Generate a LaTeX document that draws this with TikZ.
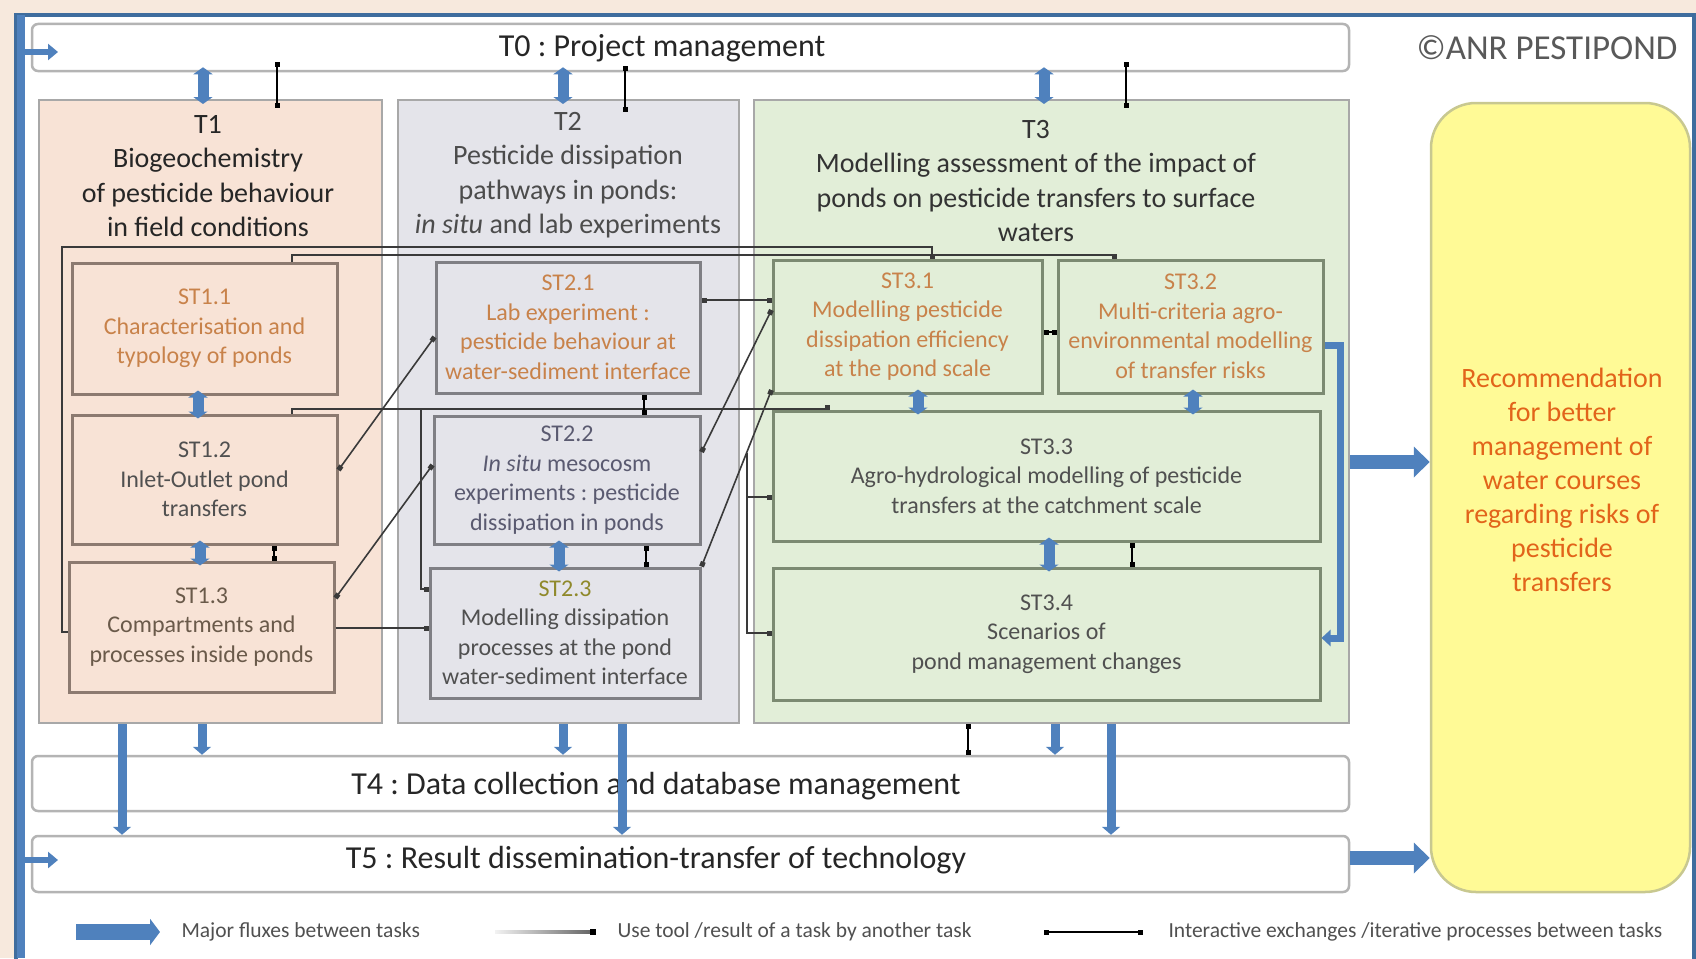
\documentclass[tikz,border=0pt]{standalone}
\usepackage{fontspec}
\setmainfont{Carlito}
\usetikzlibrary{arrows.meta}
\definecolor{fluxblue}{HTML}{4F81BD}
\definecolor{frameblue}{HTML}{3F6D9E}
\definecolor{peachbg}{HTML}{F7E9DD}
\definecolor{tonefill}{HTML}{F8E3D6}
\definecolor{ttwofill}{HTML}{E4E4EA}
\definecolor{tthreefill}{HTML}{E2EED8}
\definecolor{taskborder}{HTML}{A8A8A8}
\definecolor{barborder}{HTML}{B4B4B4}
\definecolor{stoneborder}{HTML}{8C7A70}
\definecolor{sttwoborder}{HTML}{7F7F84}
\definecolor{stthreeborder}{HTML}{7C8A72}
\definecolor{recfill}{HTML}{FFFA96}
\definecolor{recborder}{HTML}{C8C890}
\definecolor{orangeT}{HTML}{C8824A}
\definecolor{darkT}{HTML}{505050}
\definecolor{brownT}{HTML}{6A5A4A}
\definecolor{blueT}{HTML}{5A5A70}
\definecolor{recT}{HTML}{E2641A}
\definecolor{linegray}{HTML}{3A3A3A}
\begin{document}
\frenchspacing
\begin{tikzpicture}[x=1pt,y=-1pt,
  taskbox/.style={draw=taskborder,line width=2pt,inner sep=0pt},
  subbox/.style={draw=#1,line width=3pt,inner xsep=0pt,inner ysep=2pt,align=flush center,font=\fontsize{24}{29.5}\selectfont},
  barbox/.style={draw=barborder,fill=white,rounded corners=6pt,line width=2.5pt,inner sep=0pt},
  hdr/.style={align=flush center,font=\fontsize{28}{34.5}\selectfont},
  bartxt/.style={font=\fontsize{32}{36}\selectfont,text=black!85},
  flux/.style={draw=fluxblue,line width=9pt,-{Triangle[width=18pt,length=8pt]}},
  fluxd/.style={draw=fluxblue,line width=11pt,{Triangle[width=19pt,length=7pt]}-{Triangle[width=19pt,length=7pt]}},
  bigflux/.style={draw=fluxblue,line width=14pt,-{Triangle[width=30pt,length=16pt]}},
  inter/.style={draw=black,line width=1.6pt,{Square[length=5pt,width=5pt]}-{Square[length=5pt,width=5pt]}},
  usetool/.style={draw=linegray,line width=1.6pt,-{Square[length=5pt,width=5pt]}},
  usetwo/.style={draw=linegray,line width=1.6pt,{Square[length=5pt,width=5pt]}-{Square[length=5pt,width=5pt]}},
  legtxt/.style={anchor=west,font=\fontsize{21.5}{24}\selectfont,text=darkT}]
\useasboundingbox (0,0) rectangle (1696,958);
% background and frame
\fill[peachbg] (0,0) rectangle (1696,958);
\draw[draw=frameblue,fill=white,line width=4pt] (16,15) rectangle (1694,975);
\coordinate (lb1) at (21,15);
\coordinate (lb2) at (21,958);
\draw[draw=fluxblue,line width=8pt] (lb1) -- (lb2);
\coordinate (la0) at (58,52);
\coordinate (la5) at (58,860);

% task boxes
\node[taskbox,fill=tonefill,minimum width=343pt,minimum height=623pt] (t1) at (210.5,411.5) {};
\node[taskbox,fill=ttwofill,minimum width=341pt,minimum height=623pt] (t2) at (568.5,411.5) {};
\node[taskbox,fill=tthreefill,minimum width=595pt,minimum height=623pt] (t3) at (1051.5,411.5) {};
\node[barbox,minimum width=1317pt,minimum height=47pt] (t0) at (690.5,47.5) {};
\node[barbox,minimum width=1317pt,minimum height=55pt] (t4) at (690.5,783.5) {};
\node[barbox,minimum width=1317pt,minimum height=56pt] (t5) at (690.5,864) {};
\node[draw=recborder,fill=recfill,line width=2.5pt,rounded corners=45pt,minimum width=259pt,minimum height=789pt,inner sep=0pt] (rec) at (1560.5,497.5) {};

\node[bartxt] (t0txt) at (662,48) {T0 : Project management};
\node[bartxt] (t4txt) at (656,786) {T4 : Data collection and database management};
\node[bartxt] (t5txt) at (656,860) {T5 : Result dissemination-transfer of technology};
\node[font=\fontsize{35}{38}\selectfont,text=black!65] (copy) at (1547,48) {\copyright ANR PESTIPOND};
\node[align=flush center,font=\fontsize{28}{34}\selectfont,text=recT] (rectxt) at (1562,480) {Recommendation\\for better\\management of\\water courses\\regarding risks of\\pesticide\\transfers};

% headers
\node[hdr,text=black!85] (h1) at (208,176) {T1\\Biogeochemistry\\of pesticide behaviour\\in field conditions};
\node[hdr,text=black!70] (h2) at (568,175) {T2\\Pesticide dissipation\\pathways in ponds:\\\textit{in situ} and lab experiments};
\node[hdr,text=black!80] (h3) at (1036,181) {T3\\Modelling assessment of the impact of\\ponds on pesticide transfers to surface\\waters};

% subtasks
\node[subbox=stoneborder,fill=tonefill,minimum width=265pt,text width=265pt,minimum height=131pt,text=orangeT] (st11) at (204.5,328.5) {ST1.1\\Characterisation and\\typology of ponds};
\node[subbox=stoneborder,fill=tonefill,minimum width=265pt,text width=265pt,minimum height=129pt,text=darkT] (st12) at (204.5,479.5) {ST1.2\\Inlet-Outlet pond\\transfers};
\node[subbox=stoneborder,fill=tonefill,minimum width=265pt,text width=265pt,minimum height=130pt,text=brownT] (st13) at (201.5,627) {ST1.3\\Compartments and\\processes inside ponds};
\node[subbox=sttwoborder,fill=ttwofill,minimum width=264pt,text width=264pt,minimum height=131pt,text=orangeT] (st21) at (568,327.5) {ST2.1\\Lab experiment :\\pesticide behaviour at\\water-sediment interface};
\node[subbox=sttwoborder,fill=ttwofill,minimum width=266pt,text width=266pt,minimum height=128pt,text=blueT] (st22) at (567,480) {ST2.2\\\textit{In situ} mesocosm\\experiments : pesticide\\dissipation in ponds};
\node[subbox=sttwoborder,fill=ttwofill,minimum width=270pt,text width=270pt,minimum height=130pt,text=darkT] (st23) at (565,633) {\textcolor{olive!70!gray}{ST2.3}\\Modelling dissipation\\processes at the pond\\water-sediment interface};
\node[subbox=stthreeborder,fill=tthreefill,minimum width=269pt,text width=269pt,minimum height=133pt,text=orangeT] (st31) at (907.5,326.5) {ST3.1\\Modelling pesticide\\dissipation efficiency\\at the pond scale};
\node[subbox=stthreeborder,fill=tthreefill,minimum width=265pt,text width=265pt,minimum height=133pt,text=orangeT] (st32) at (1190.5,326.5) {ST3.2\\Multi-criteria agro-\\environmental modelling\\of transfer risks};
\node[subbox=stthreeborder,fill=tthreefill,minimum width=547pt,text width=547pt,minimum height=130pt,text=darkT] (st33) at (1046.5,476) {ST3.3\\Agro-hydrological modelling of pesticide\\transfers at the catchment scale};
\node[subbox=stthreeborder,fill=tthreefill,minimum width=547pt,text width=547pt,minimum height=132pt,text=darkT] (st34) at (1046.5,634) {ST3.4\\Scenarios of\\pond management changes};

% use-tool lines
\draw[usetool] (st13.west |- 0,632) -- (62,632) -- (62,247) -- (932,247) -- (932,0 |- st31.north);
\draw[usetool] (292,0 |- st11.north) -- (292,255) -- (1114,255) -- (1114,0 |- st32.north);
\draw[usetool] (292,0 |- st12.north) -- (292,409) -- (827,409) -- (827,0 |- st33.north);
\draw[usetool] (421,409) -- (421,589) -- (st23.west |- 0,589);
\draw[usetwo] (st12.east |- 0,470) -- (st21.west |- 0,337);
\draw[usetwo] (st13.east |- 0,598) -- (st22.west |- 0,465);
\draw[usetool] (st13.east |- 0,628) -- (st23.west |- 0,628);
\draw[usetwo] (st21.east |- 0,300) -- (st31.west |- 0,300);
\draw[usetwo] (st22.east |- 0,452) -- (st31.west |- 0,310);
\draw[usetwo] (st23.north east) -- (st31.west |- 0,390);
\draw[usetool] (747,453) -- (747,633) -- (st34.west |- 0,633);
\draw[usetool] (747,497) -- (st33.west |- 0,497);

% interactive exchanges
\draw[inter] (277,62) -- (277,108);
\draw[inter] (625,66) -- (625,112);
\draw[inter] (1126,62) -- (1126,108);
\draw[inter] (274,0 |- st12.south) -- (274,0 |- st13.north);
\draw[inter] (644,0 |- st21.south) -- (644,0 |- st22.north);
\draw[inter] (646,0 |- st22.south) -- (646,0 |- st23.north);
\draw[inter] (1132,0 |- st33.south) -- (1132,0 |- st34.north);
\draw[inter] (st31.east |- 0,332) -- (st32.west |- 0,332);
\draw[inter] (968,0 |- t3.south) -- (968,0 |- t4.north);

% major fluxes
\draw[fluxd] ([yshift=5pt]203,0 |- t0.south) -- ([yshift=-5pt]203,0 |- t1.north);
\draw[fluxd] ([yshift=5pt]563,0 |- t0.south) -- ([yshift=-5pt]563,0 |- t2.north);
\draw[fluxd] ([yshift=5pt]1044,0 |- t0.south) -- ([yshift=-5pt]1044,0 |- t3.north);
\draw[fluxd] ([yshift=5pt]198,0 |- st11.south) -- ([yshift=-5pt]198,0 |- st12.north);
\draw[fluxd] ([yshift=5pt]200,0 |- st12.south) -- ([yshift=-5pt]200,0 |- st13.north);
\draw[fluxd] ([yshift=5pt]559,0 |- st22.south) -- ([yshift=-5pt]559,0 |- st23.north);
\draw[fluxd] ([yshift=5pt]918,0 |- st31.south) -- ([yshift=-5pt]918,0 |- st33.north);
\draw[fluxd] ([yshift=5pt]1193,0 |- st32.south) -- ([yshift=-5pt]1193,0 |- st33.north);
\draw[fluxd] ([yshift=5pt]1049,0 |- st33.south) -- ([yshift=-5pt]1049,0 |- st34.north);
\draw[flux] (202,0 |- t1.south) -- (202,0 |- t4.north);
\draw[flux] (563,0 |- t2.south) -- (563,0 |- t4.north);
\draw[flux] (1055,0 |- t3.south) -- (1055,0 |- t4.north);
\draw[flux] (122,0 |- t1.south) -- (122,0 |- t5.north);
\draw[flux] (622,0 |- t2.south) -- (622,0 |- t5.north);
\draw[flux] (1111,0 |- t3.south) -- (1111,0 |- t5.north);
\draw[draw=fluxblue,line width=7pt,-{Triangle[width=16pt,length=9pt]}] (st32.east |- 0,345) -- (1340,345) -- (1340,638) -- (st34.east |- 0,638);
\draw[bigflux] (t3.east |- 0,462) -- (rec.west |- 0,462);
\draw[bigflux] (t5.east |- 0,858) -- (rec.west |- 0,858);
\draw[draw=fluxblue,line width=6pt,-{Triangle[width=16pt,length=10pt]}] (lb1 |- la0) -- (la0);
\draw[draw=fluxblue,line width=6pt,-{Triangle[width=16pt,length=10pt]}] (lb1 |- la5) -- (la5);

% legend
\coordinate (lga) at (76,932);
\coordinate (lgb) at (160,932);
\draw[draw=fluxblue,line width=16pt,-{Triangle[width=26pt,length=10pt]}] (lga) -- (lgb);
\node[legtxt] (lt1) at (178,932) {Major fluxes between tasks};
\node[inner sep=0pt,minimum width=96pt,minimum height=3pt,left color=gray!10,right color=gray!80!black] (lgline) at (543,932) {};
\node[fill=black,minimum size=6pt,inner sep=0pt] (lgsq) at (593,932) {};
\node[legtxt] (lt2) at (614,932) {Use tool /result of a task by another task};
\coordinate (lgc) at (1044,932);
\coordinate (lgd) at (1143,932);
\draw[inter] (lgc) -- (lgd);
\node[legtxt] (lt3) at (1165,932) {Interactive exchanges /iterative processes between tasks};
\end{tikzpicture}
\end{document}
